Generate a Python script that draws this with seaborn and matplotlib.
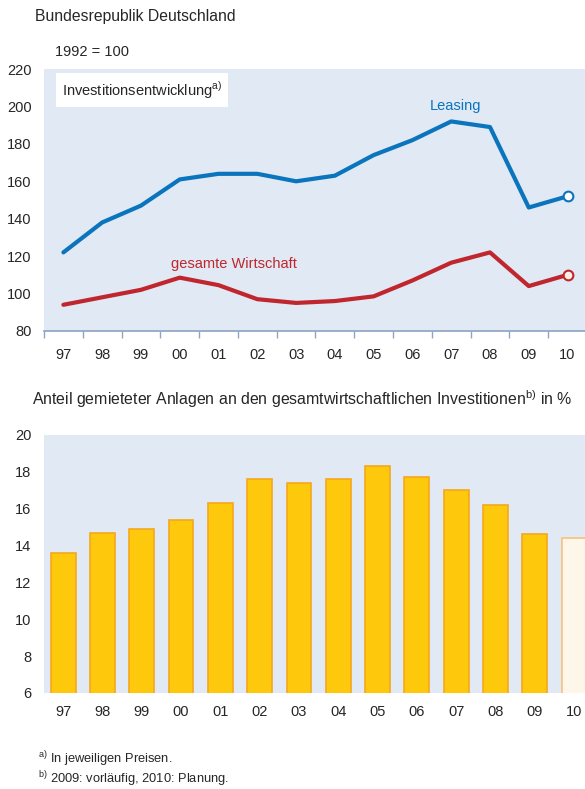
import pandas as pd
import seaborn as sns
import matplotlib.pyplot as plt

# Daten
jahre = ["97", "98", "99", "00", "01", "02", "03", "04", "05", "06", "07", "08", "09", "10"]
leasing = [122, 138, 147, 161, 164, 164, 160, 163, 174, 182, 192, 189, 146, 152]
wirtschaft = [94, 98, 102, 108.5, 104.5, 97, 95, 96, 98.5, 107, 116.5, 122, 104, 110]
anteil = [13.6, 14.7, 14.9, 15.4, 16.3, 17.6, 17.4, 17.6, 18.3, 17.7, 17.0, 16.2, 14.6, 14.4]

BG = "#e1e9f5"
BLAU = "#0a74bd"
ROT = "#c0262d"
GELB = "#fec90c"
ORANGE = "#f5a81c"
ACHSE = "#8ea6c6"

sns.set_theme(style="white")
plt.rcParams["font.family"] = ["Liberation Sans", "DejaVu Sans"]
plt.rcParams["mathtext.fontset"] = "custom"
plt.rcParams["mathtext.rm"] = "Liberation Sans"

df = pd.DataFrame({"pos": range(len(jahre)), "Leasing": leasing, "gesamte Wirtschaft": wirtschaft})
df_long = df.melt(id_vars="pos", var_name="Reihe", value_name="Index")
df_bar = pd.DataFrame({"Jahr": jahre, "Anteil": anteil})

fig = plt.figure(figsize=(5.85, 7.89), dpi=100)
ax1 = fig.add_axes([0.0752, 0.5805, 0.9248, 0.332])
ax2 = fig.add_axes([0.0752, 0.1217, 0.9248, 0.327])

# Oberes Diagramm: Investitionsentwicklung
ax1.set_facecolor(BG)
sns.lineplot(data=df_long, x="pos", y="Index", hue="Reihe", palette=[BLAU, ROT],
             linewidth=3, legend=False, ax=ax1)
letzte = df.iloc[[-1]]
ax1.plot(letzte["pos"], letzte["Leasing"], "o", ms=7, mfc="white", mec=BLAU, mew=1.5, zorder=5)
ax1.plot(letzte["pos"], letzte["gesamte Wirtschaft"], "o", ms=7, mfc="#fdf1e3", mec=ROT, mew=1.5, zorder=5)

ax1.set_xlim(-0.49, 13.45)
ax1.set_ylim(80, 220)
ax1.set_yticks(range(80, 221, 20))
ax1.set_xticks(range(len(jahre)))
ax1.set_xticklabels(jahre)
ax1.set_xticks([i - 0.5 for i in range(len(jahre))], minor=True)
ax1.tick_params(axis="x", which="major", length=0, pad=12, labelsize=10.5)
ax1.tick_params(axis="x", which="minor", length=5, color=ACHSE, width=1, bottom=True)
ax1.tick_params(axis="y", length=0, pad=9, labelsize=10.5)
for s in ["top", "right", "left"]:
    ax1.spines[s].set_visible(False)
ax1.spines["bottom"].set_color(ACHSE)
ax1.set_xlabel("")
ax1.set_ylabel("")

ax1.text(0.033, 0.92, r"Investitionsentwicklung$^{\mathrm{a)}}$", transform=ax1.transAxes,
         fontsize=10.5, va="center", ha="left",
         bbox=dict(facecolor="white", edgecolor="none", boxstyle="square,pad=0.4"))
ax1.text(10.1, 200, "Leasing", color=BLAU, fontsize=10.5, ha="center", va="center")
ax1.text(4.4, 116, "gesamte Wirtschaft", color=ROT, fontsize=10.5, ha="center", va="center")

# Unteres Diagramm: Anteil gemieteter Anlagen
ax2.set_facecolor(BG)
farben = [GELB] * (len(jahre) - 1) + ["#fff6ea"]
sns.barplot(data=df_bar, x="Jahr", y="Anteil", hue="Jahr", palette=farben, saturation=1,
            width=0.63, legend=False, ax=ax2)
for i, p in enumerate(ax2.patches):
    p.set_edgecolor("#f7c27a" if i == len(jahre) - 1 else ORANGE)
    p.set_linewidth(1.2)
ax2.set_xlim(-0.49, 13.28)
ax2.set_ylim(6, 20)
ax2.set_yticks(range(6, 21, 2))
ax2.tick_params(axis="x", length=0, pad=9, labelsize=10.5)
ax2.tick_params(axis="y", length=0, pad=9, labelsize=10.5)
for s in ax2.spines.values():
    s.set_visible(False)
ax2.set_xlabel("")
ax2.set_ylabel("")

# Texte
fig.text(0.06, 0.979, "Bundesrepublik Deutschland", fontsize=11.3, va="center")
fig.text(0.094, 0.934, "1992 = 100", fontsize=10.5, va="center")
fig.text(0.054, 0.494,
         r"Anteil gemieteter Anlagen an den gesamtwirtschaftlichen Investitionen$^{\mathrm{b)}}$ in %",
         fontsize=11.4, va="center")
fig.text(0.065, 0.0375, r"$^{\mathrm{a)}}$ In jeweiligen Preisen.", fontsize=9.3, va="center")
fig.text(0.065, 0.0125, r"$^{\mathrm{b)}}$ 2009: vorläufig, 2010: Planung.", fontsize=9.3, va="center")

plt.savefig("out.png", dpi=100)
plt.close()
